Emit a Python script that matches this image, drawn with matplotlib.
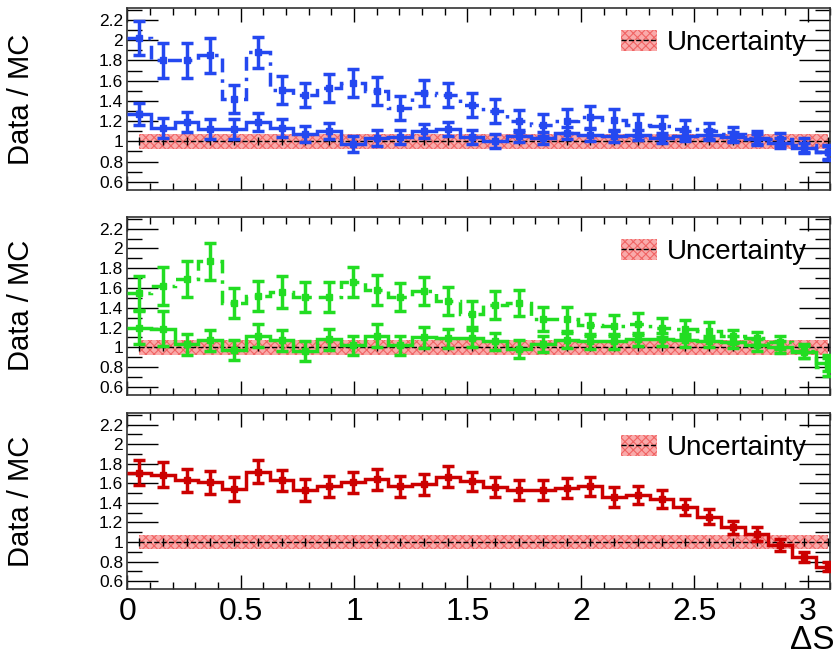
import numpy as np
import matplotlib.pyplot as plt
from matplotlib.patches import Patch
from matplotlib.lines import Line2D
from matplotlib.ticker import MultipleLocator, FixedLocator, FixedFormatter, FormatStrFormatter

plt.rcParams['font.family'] = ['Liberation Sans', 'DejaVu Sans']
plt.rcParams['hatch.linewidth'] = 0.8

# 30 bins in delta S from 0 to pi
edges = np.linspace(0, np.pi, 31)

blue_solid = [1.27, 1.13, 1.19, 1.12, 1.12, 1.19, 1.13, 1.07, 1.10, 0.97,
              1.03, 1.04, 1.10, 1.12, 1.04, 1.00, 1.05, 1.03, 1.08, 1.06,
              1.05, 1.06, 1.03, 1.05, 1.06, 1.04, 1.02, 0.98, 0.93, 0.89]
blue_solid_err = [0.11, 0.10, 0.10, 0.10, 0.10, 0.09, 0.09, 0.08, 0.08, 0.08,
                  0.08, 0.07, 0.07, 0.07, 0.07, 0.07, 0.06, 0.06, 0.06, 0.06,
                  0.06, 0.05, 0.05, 0.05, 0.05, 0.05, 0.05, 0.05, 0.05, 0.06]
blue_dash = [2.02, 1.80, 1.80, 1.85, 1.42, 1.88, 1.51, 1.46, 1.53, 1.58,
             1.50, 1.33, 1.48, 1.46, 1.36, 1.30, 1.20, 1.16, 1.20, 1.24,
             1.21, 1.16, 1.15, 1.12, 1.10, 1.07, 1.03, 1.02, 0.96, 0.89]
blue_dash_err = [0.17, 0.17, 0.17, 0.17, 0.14, 0.15, 0.14, 0.12, 0.14, 0.14,
                 0.14, 0.12, 0.13, 0.12, 0.12, 0.12, 0.11, 0.11, 0.12, 0.11,
                 0.11, 0.11, 0.10, 0.09, 0.08, 0.07, 0.07, 0.06, 0.07, 0.07]

green_solid = [1.20, 1.19, 1.03, 1.07, 0.97, 1.12, 1.07, 0.96, 1.08, 1.02,
               1.12, 1.02, 1.10, 1.09, 1.09, 1.06, 0.98, 1.03, 1.07, 1.06,
               1.06, 1.08, 1.08, 1.07, 1.06, 1.05, 1.02, 1.00, 0.95, 0.84]
green_solid_err = [0.17, 0.18, 0.11, 0.11, 0.10, 0.12, 0.11, 0.10, 0.11, 0.10,
                   0.12, 0.10, 0.11, 0.10, 0.09, 0.09, 0.09, 0.08, 0.08, 0.08,
                   0.08, 0.07, 0.07, 0.07, 0.06, 0.06, 0.06, 0.06, 0.06, 0.08]
green_dash = [1.55, 1.62, 1.69, 1.87, 1.45, 1.52, 1.56, 1.51, 1.51, 1.66,
              1.58, 1.51, 1.57, 1.47, 1.34, 1.43, 1.45, 1.29, 1.29, 1.23,
              1.22, 1.24, 1.20, 1.19, 1.17, 1.11, 1.09, 1.05, 0.96, 0.80]
green_dash_err = [0.17, 0.19, 0.18, 0.19, 0.15, 0.15, 0.16, 0.15, 0.15, 0.15,
                  0.15, 0.14, 0.14, 0.14, 0.13, 0.14, 0.13, 0.12, 0.12, 0.11,
                  0.11, 0.11, 0.10, 0.09, 0.09, 0.07, 0.07, 0.07, 0.07, 0.09]

red_solid = [1.71, 1.69, 1.63, 1.61, 1.54, 1.72, 1.63, 1.53, 1.57, 1.61,
             1.64, 1.57, 1.59, 1.67, 1.62, 1.56, 1.53, 1.53, 1.55, 1.57,
             1.46, 1.48, 1.44, 1.36, 1.26, 1.15, 1.08, 0.97, 0.85, 0.75]
red_solid_err = [0.13, 0.13, 0.12, 0.12, 0.12, 0.12, 0.11, 0.11, 0.11, 0.11,
                 0.11, 0.11, 0.11, 0.11, 0.10, 0.10, 0.10, 0.10, 0.10, 0.10,
                 0.10, 0.09, 0.09, 0.08, 0.08, 0.07, 0.07, 0.06, 0.05, 0.05]

unc_half = 0.075
y_ticks = [0.6, 0.8, 1.0, 1.2, 1.4, 1.6, 1.8, 2.0, 2.2]
y_ticklabels = ['0.6', '0.8', '1', '1.2', '1.4', '1.6', '1.8', '2', '2.2']

blue = '#2448f0'
green = '#22dd22'
red = '#cc0000'
band_face = '#f9aaaa'
band_hatch = '#f06464'

centers = 0.5 * (edges[:-1] + edges[1:])


def draw_series(ax, vals, errs, color, ls):
    ax.stairs(vals, edges, baseline=None, color=color, lw=2.5,
              linestyle=ls, zorder=4)
    ax.errorbar(centers, vals, yerr=errs, fmt='s', ms=4, color=color,
                elinewidth=2.5, capsize=4, capthick=2.5, zorder=5)


def draw_band(ax):
    ones = np.ones_like(centers)
    ax.fill_between(centers, ones - unc_half, ones + unc_half,
                    facecolor=band_face, edgecolor=band_hatch, hatch='xxxx',
                    linewidth=0, zorder=2)
    ax.plot(centers, ones, color='k', ls='--', lw=1, zorder=3)
    ax.errorbar(centers, ones, yerr=0.04, fmt='none', ecolor='k',
                elinewidth=1, zorder=3)


def style_axes(ax, show_x):
    ax.set_xlim(0, 3.1)
    ax.set_ylim(0.52, 2.32)
    ax.xaxis.set_major_locator(MultipleLocator(0.5))
    ax.xaxis.set_major_formatter(FormatStrFormatter('%g'))
    ax.xaxis.set_minor_locator(MultipleLocator(0.1))
    ax.yaxis.set_major_locator(FixedLocator(y_ticks))
    ax.yaxis.set_major_formatter(FixedFormatter(y_ticklabels))
    ax.yaxis.set_minor_locator(MultipleLocator(0.1))
    ax.tick_params(axis='y', which='major', direction='in', length=22,
                   width=1, left=True, right=True, labelsize=12.5, pad=3)
    ax.tick_params(axis='y', which='minor', direction='in', length=11,
                   width=1, left=True, right=True)
    ax.tick_params(axis='x', which='major', direction='in', length=10,
                   width=1, top=True, bottom=True, labelsize=23, pad=6)
    ax.tick_params(axis='x', which='minor', direction='in', length=5,
                   width=1, top=True, bottom=True)
    if not show_x:
        ax.tick_params(axis='x', labelbottom=False)
    for s in ax.spines.values():
        s.set_linewidth(1.2)
        s.set_color('#333333')
    ax.set_ylabel('Data / MC', fontsize=21,
                  family=['Liberation Sans Narrow', 'Liberation Sans'])
    ax.yaxis.set_label_coords(-0.131, 0.5)
    handle = (Patch(facecolor=band_face, edgecolor=band_hatch, hatch='xxxx', lw=0),
              Line2D([], [], color='k', ls='--', lw=1))
    ax.legend([handle], ['Uncertainty'], loc='upper right', frameon=False,
              fontsize=20, handlelength=1.3, handleheight=0.8,
              handletextpad=0.35, borderaxespad=0,
              bbox_to_anchor=(0.982, 0.94))


fig = plt.figure(figsize=(8.37, 6.57), dpi=100)
ax1 = fig.add_axes([0.152, 0.711, 0.840, 0.277])
ax2 = fig.add_axes([0.152, 0.399, 0.840, 0.271])
ax3 = fig.add_axes([0.152, 0.1035, 0.840, 0.268])

for ax in (ax1, ax2, ax3):
    draw_band(ax)

draw_series(ax1, blue_dash, blue_dash_err, blue, (0, (4, 2, 1, 2)))
draw_series(ax1, blue_solid, blue_solid_err, blue, '-')
draw_series(ax2, green_dash, green_dash_err, green, (0, (4, 2, 1, 2)))
draw_series(ax2, green_solid, green_solid_err, green, '-')
draw_series(ax3, red_solid, red_solid_err, red, '-')

style_axes(ax1, False)
style_axes(ax2, False)
style_axes(ax3, True)

fig.text(0.997, 0.025, 'ΔS', ha='right', va='center', fontsize=24)

fig.savefig('out.png', dpi=100)
